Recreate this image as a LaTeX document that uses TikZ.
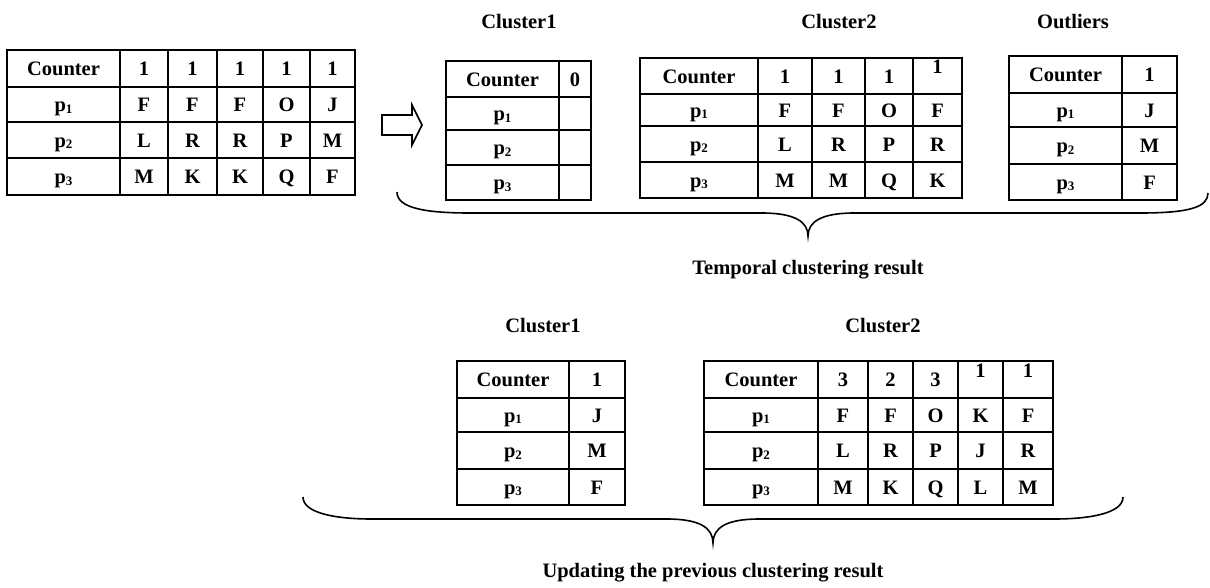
\documentclass[tikz,border=0pt]{standalone}
\usepackage{fontspec}
\setmainfont{Liberation Serif}
\tikzset{
  gridline/.style={line width=1.8pt},
  txt/.style={anchor=base, inner sep=0pt, font=\fontsize{20.5}{24}\selectfont\bfseries},
  bracepath/.style={line width=1.6pt},
  blockarrow/.style={line width=1.6pt, line join=miter},
}
\newcommand\pp[1]{p\raisebox{-1.5pt}{\fontsize{13}{13}\selectfont #1}}
\newcommand\tgrid[6]{%
  \draw[gridline] (#1,#3) rectangle (#2,#4);
  \foreach \xx in {#5} {\draw[gridline] (\xx,#3) -- (\xx,#4);}
  \foreach \yy in {#6} {\draw[gridline] (#1,\yy) -- (#2,\yy);}
}
\newcommand\trow[4]{\foreach \cx/\t [count=\i from 0] in {#4} {\node[txt] (#1-#2-\i) at (\cx,#3) {\t};}}
\begin{document}
\begin{tikzpicture}[x=1pt,y=-1pt]
\useasboundingbox (0,0) rectangle (1210,587);

% ---- Table A (input)
\tgrid{7}{355}{50}{195}{120,168,217,263,310}{87,122,158}
\trow{A}{0}{75.5}{63.5/Counter,144/1,192.5/1,240/1,286.5/1,332.5/1}
\trow{A}{1}{111.5}{63.5/\pp{1},144/F,192.5/F,240/F,286.5/O,332.5/J}
\trow{A}{2}{147}{63.5/\pp{2},144/L,192.5/R,240/R,286.5/P,332.5/M}
\trow{A}{3}{183.5}{63.5/\pp{3},144/M,192.5/K,240/K,286.5/Q,332.5/F}

% ---- block arrow
\draw[blockarrow] (382,115) -- (412,115) -- (412,105) -- (422,125) -- (412,145) -- (412,135) -- (382,135) -- cycle;

% ---- Top Cluster1
\node[txt] (lc1) at (519,28) {Cluster1};
\tgrid{446}{591}{61}{200}{559}{97,130,165}
\trow{B}{0}{86}{502.5/Counter,575/0}
\trow{B}{1}{120.5}{502.5/\pp{1}}
\trow{B}{2}{154.5}{502.5/\pp{2}}
\trow{B}{3}{189.5}{502.5/\pp{3}}

% ---- Top Cluster2
\node[txt] (lc2) at (839,28) {Cluster2};
\tgrid{640}{962}{58}{198}{758,812,865,913}{94,126,162}
\trow{C}{0}{83}{699/Counter,785/1,838.5/1,889/1}
\node[txt] (C-0-4) at (937.5,73) {1};
\trow{C}{1}{117}{699/\pp{1},785/F,838.5/F,889/O,937.5/F}
\trow{C}{2}{151}{699/\pp{2},785/L,838.5/R,889/P,937.5/R}
\trow{C}{3}{187}{699/\pp{3},785/M,838.5/M,889/Q,937.5/K}

% ---- Outliers
\node[txt] (lout) at (1073,28) {Outliers};
\tgrid{1009}{1177}{56}{200}{1122}{93,127,164}
\trow{D}{0}{81.5}{1065.5/Counter,1149.5/1}
\trow{D}{1}{117}{1065.5/\pp{1},1149.5/J}
\trow{D}{2}{152.5}{1065.5/\pp{2},1149.5/M}
\trow{D}{3}{189}{1065.5/\pp{3},1149.5/F}

% ---- top brace
\draw[bracepath] (397,192) .. controls (397,208) and (425,213) .. (470,213) -- (762,213)
  .. controls (795,213) and (808,222) .. (808,236)
  .. controls (808,222) and (821,213) .. (854,213) -- (1140,213)
  .. controls (1190,213) and (1208,207) .. (1208,193);
\node[txt] (ltemp) at (808,274) {Temporal clustering result};

% ---- Bottom Cluster1
\node[txt] (lb1) at (543,332) {Cluster1};
\tgrid{457}{625}{361}{505}{569}{398,432,469}
\trow{E}{0}{386.5}{513/Counter,597/1}
\trow{E}{1}{422}{513/\pp{1},597/J}
\trow{E}{2}{457.5}{513/\pp{2},597/M}
\trow{E}{3}{494}{513/\pp{3},597/F}

% ---- Bottom Cluster2
\node[txt] (lb2) at (883,332) {Cluster2};
\tgrid{704}{1053}{361}{505}{818,868,913,958,1003}{398,432,469}
\trow{F}{0}{386.5}{761/Counter,843/3,890.5/2,935.5/3}
\node[txt] (F-0-4) at (980.5,377) {1};
\node[txt] (F-0-5) at (1028,377) {1};
\trow{F}{1}{422}{761/\pp{1},843/F,890.5/F,935.5/O,980.5/K,1028/F}
\trow{F}{2}{457.5}{761/\pp{2},843/L,890.5/R,935.5/P,980.5/J,1028/R}
\trow{F}{3}{494}{761/\pp{3},843/M,890.5/K,935.5/Q,980.5/L,1028/M}

% ---- bottom brace
\draw[bracepath] (303,497) .. controls (303,513) and (335,519) .. (372,519) -- (667,519)
  .. controls (700,519) and (713,528) .. (713,543)
  .. controls (713,528) and (726,519) .. (759,519) -- (1054,519)
  .. controls (1091,519) and (1123,513) .. (1123,497);
\node[txt] (lupd) at (713,577) {Updating the previous clustering result};
\end{tikzpicture}
\end{document}
